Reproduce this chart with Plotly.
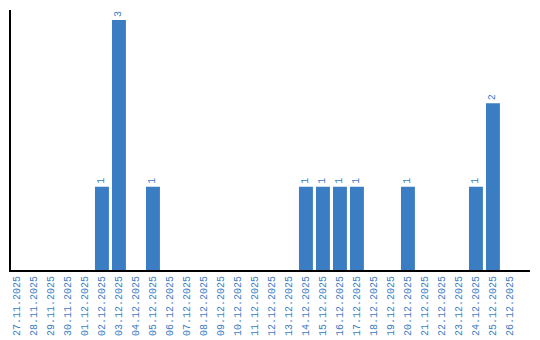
import plotly.graph_objects as go

dates = ["27.11.2025", "28.11.2025", "29.11.2025", "30.11.2025", "01.12.2025",
         "02.12.2025", "03.12.2025", "04.12.2025", "05.12.2025", "06.12.2025",
         "07.12.2025", "08.12.2025", "09.12.2025", "10.12.2025", "11.12.2025",
         "12.12.2025", "13.12.2025", "14.12.2025", "15.12.2025", "16.12.2025",
         "17.12.2025", "18.12.2025", "19.12.2025", "20.12.2025", "21.12.2025",
         "22.12.2025", "23.12.2025", "24.12.2025", "25.12.2025", "26.12.2025"]
counts = [0, 0, 0, 0, 0, 1, 3, 0, 1, 0, 0, 0, 0, 0, 0,
          0, 0, 1, 1, 1, 1, 0, 0, 1, 0, 0, 0, 1, 2, 0]

blue = "#3b7dc3"
labels = [str(v) if v > 0 else "" for v in counts]

fig = go.Figure(go.Bar(
    x=dates, y=counts, text=labels, textposition="outside",
    textangle=-90, cliponaxis=False,
    textfont=dict(family="Liberation Mono", size=10, color=blue),
    marker=dict(color=blue, line=dict(width=0)), width=0.82,
))
fig.update_layout(
    width=540, height=340, margin=dict(l=11, r=10, t=10, b=70),
    paper_bgcolor="white", plot_bgcolor="white", showlegend=False,
    uniformtext=dict(minsize=10, mode="show"),
)
fig.update_xaxes(type="category", range=[-0.35, 30.18], tickangle=-90,
                 automargin=False,
                 showline=True, linecolor="black", linewidth=2, showgrid=False,
                 ticks="", tickfont=dict(family="Liberation Mono", size=10, color=blue))
fig.update_yaxes(range=[0, 3.12], showline=True, linecolor="black", linewidth=2,
                 automargin=False,
                 showgrid=False, showticklabels=False, ticks="", zeroline=False)
fig.write_html("out.html")
